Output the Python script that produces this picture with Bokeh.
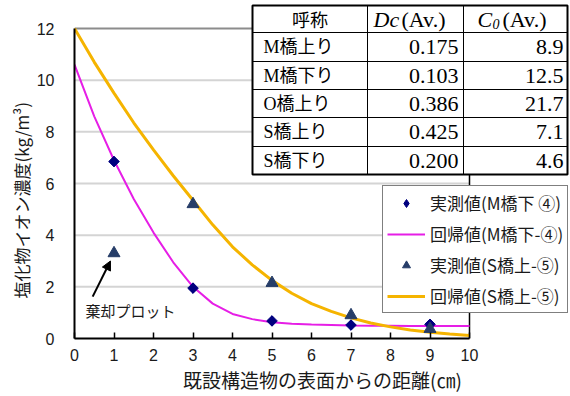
from math import pi

from bokeh.embed import file_html
from bokeh.models import (Arrow, BoxAnnotation, FixedTicker, Label, Legend,
                          LegendItem, NormalHead, Range1d, Title)
from bokeh.plotting import figure
from bokeh.resources import INLINE

# Measured chloride-ion concentration by depth (cm -> kg/m3)
depth_cm = [1, 3, 5, 7, 9]
measured_m4 = [6.85, 1.95, 0.68, 0.52, 0.55]
measured_s5 = [3.3, 5.2, 2.15, 0.9, 0.37]

# Regression curves (diffusion fit) sampled along depth
curve_x = [0, 0.5, 1, 1.5, 2, 2.5, 3, 3.5, 4, 4.5, 5,
           5.5, 6, 6.5, 7, 7.5, 8, 8.5, 9, 9.5, 10]
curve_m4 = [10.6, 8.6, 6.9, 5.4, 4.1, 2.95, 2.0, 1.35, 0.95, 0.75, 0.63,
            0.57, 0.54, 0.52, 0.5, 0.49, 0.49, 0.48, 0.48, 0.48, 0.48]
curve_s5 = [12.0, 10.7, 9.5, 8.35, 7.3, 6.3, 5.35, 4.4, 3.55, 2.85, 2.25,
            1.75, 1.35, 1.05, 0.8, 0.6, 0.45, 0.33, 0.24, 0.17, 0.12]

x_ticks = [0, 1, 2, 3, 4, 5, 6, 7, 8, 9, 10]
y_ticks = [0, 2, 4, 6, 8, 10, 12]

# Summary table: average diffusion coefficient and surface concentration
bridge_names = ["M橋上り", "M橋下り", "O橋上り", "S橋上り", "S橋下り"]
dc_avg = [0.175, 0.103, 0.386, 0.425, 0.200]
c0_avg = [8.9, 12.5, 21.7, 7.1, 4.6]

JP = "Noto Sans CJK JP"
SERIF = "Liberation Serif"
SANS = "Liberation Sans"
MIXED = "'Liberation Serif', 'Noto Sans CJK JP'"

# The frame is widened to the right and up so the table and legend,
# which sit partly outside the 0-10 / 0-12 axes, are not clipped.
W, H = 570, 396
LEFT, BOTTOM = 74, 58
AXIS_W, AXIS_H = 395, 310          # pixels spanned by 0-10 cm and 0-12 kg/m3
x_max, y_max = x_ticks[-1], y_ticks[-1]
x_end = x_max * (W - LEFT) / AXIS_W
y_end = y_max * (H - BOTTOM) / AXIS_H

p = figure(width=W, height=H, x_range=Range1d(0, x_end), y_range=Range1d(0, y_end),
           output_backend="svg", toolbar_location=None,
           min_border_left=LEFT, min_border_right=0,
           min_border_top=0, min_border_bottom=BOTTOM)
p.outline_line_color = None
p.background_fill_color = "white"
p.border_fill_color = "white"
p.xgrid.visible = False
p.ygrid.visible = False

# horizontal grid, top edge (grey) and right edge (black) of the 0-10 x 0-12 box
grid_levels = y_ticks[1:-1]
p.segment(x0=[x_ticks[0]] * len(grid_levels), x1=[x_max] * len(grid_levels),
          y0=grid_levels, y1=grid_levels, line_color="#d4d4d4", line_width=2)
p.segment(x0=[x_ticks[0]], x1=[x_max], y0=[y_max], y1=[y_max],
          line_color="#8c8c8c", line_width=2)
p.segment(x0=[x_max], x1=[x_max], y0=[y_ticks[0]], y1=[y_max],
          line_color="black", line_width=1.5)

# bottom axis: ticks pointing inward
xa = p.xaxis[0]
xa.bounds = (x_ticks[0], x_max)
xa.ticker = FixedTicker(ticks=x_ticks)
xa.axis_line_color = "black"
xa.axis_line_width = 2
xa.major_tick_in = 6
xa.major_tick_out = 0
xa.major_tick_line_color = "black"
xa.major_tick_line_width = 1.5
xa.minor_tick_line_color = None
xa.major_label_text_font = SANS
xa.major_label_text_font_size = "16px"
xa.major_label_text_color = "#1a1a1a"
xa.major_label_standoff = 10
xa.axis_label = "既設構造物の表面からの距離(㎝)"
xa.axis_label_text_font = JP
xa.axis_label_text_font_size = "19px"
xa.axis_label_text_font_style = "normal"
xa.axis_label_text_color = "#1a1a1a"
xa.axis_label_standoff = 2

ya = p.yaxis[0]
ya.bounds = (y_ticks[0], y_max)
ya.ticker = FixedTicker(ticks=y_ticks)
ya.axis_line_color = "black"
ya.axis_line_width = 2
ya.major_tick_in = 0
ya.major_tick_out = 0
ya.minor_tick_line_color = None
ya.major_label_text_font = SANS
ya.major_label_text_font_size = "16px"
ya.major_label_text_color = "#1a1a1a"
ya.major_label_standoff = 20

# vertical title, anchored near the bottom of the 0-12 axis
p.add_layout(Title(text="塩化物イオン濃度(kg/m³)", align="left", offset=40,
                   text_font=JP, text_font_size="17px", text_font_style="normal",
                   text_color="#1a1a1a", standoff=0), "left")

# regression curves
r_fit_m4 = p.line(curve_x, curve_m4, line_color="#E61EE6", line_width=2)
r_fit_s5 = p.line(curve_x, curve_s5, line_color="#F5B400", line_width=3)

# measured points; an upright diamond underneath serves as the legend key
r_m4_key = p.scatter(depth_cm, measured_m4, marker="diamond", size=10,
                     fill_color="#00007F", line_color="#00007F")
r_m4 = p.scatter(depth_cm, measured_m4, marker="square", angle=pi / 4, size=7.5,
                 fill_color="#00007F", line_color="#00007F")
r_s5 = p.scatter(depth_cm, measured_s5, marker="triangle", size=12,
                 fill_color="#263D68", line_color="#263D68")

legend = Legend(items=[
    LegendItem(label="実測値(M橋下 ④)", renderers=[r_m4_key]),
    LegendItem(label="回帰値(M橋下-④)", renderers=[r_fit_m4]),
    LegendItem(label="実測値(S橋上-⑤)", renderers=[r_s5]),
    LegendItem(label="回帰値(S橋上-⑤)", renderers=[r_fit_s5]),
], location=(308, 25))
legend.label_text_font = JP
legend.label_text_font_size = "17px"
legend.label_text_color = "#1a1a1a"
legend.glyph_width = 38
legend.glyph_height = 20
legend.label_height = 20
legend.label_standoff = 5
legend.padding = 4
legend.spacing = 6
legend.margin = 0
legend.border_line_color = "black"
legend.border_line_width = 1
legend.background_fill_color = "white"
legend.background_fill_alpha = 1
p.add_layout(legend, "center")

# rejected point annotation
p.add_layout(Arrow(end=NormalHead(size=9, fill_color="black", line_color="black"),
                   x_start=0.46, y_start=1.62, x_end=0.91, y_end=3.0,
                   line_color="black", line_width=2))
p.add_layout(Label(x=0.28, y=1.08, text="棄却プロット", text_font=JP,
                   text_font_size="15px", text_baseline="middle", text_color="#1a1a1a"))

# summary table in canvas pixels
col_edges = [252, 367, 463, 567]
row_edges = [5, 32, 61, 89, 117, 146, 174]


def cbox(l, r, t, b, **kw):
    return BoxAnnotation(left=l, right=r, top=t, bottom=b,
                         left_units="canvas", right_units="canvas",
                         top_units="canvas", bottom_units="canvas", **kw)


p.add_layout(cbox(col_edges[0], col_edges[-1], row_edges[0], row_edges[-1],
                  fill_color="white", fill_alpha=1, line_color="black",
                  line_alpha=1, line_width=2))
for i in range(len(row_edges) - 1):
    for j in range(len(col_edges) - 1):
        p.add_layout(cbox(col_edges[j], col_edges[j + 1], row_edges[i], row_edges[i + 1],
                          fill_alpha=0, line_color="black", line_alpha=1, line_width=1))


def ctext(x, y, text, font=SERIF, size="22px", align="left", style="normal"):
    p.add_layout(Label(x=x, y=y, x_units="canvas", y_units="canvas", text=text,
                       text_font=font, text_font_size=size, text_align=align,
                       text_baseline="middle", text_font_style=style, text_color="black"))


hy = (row_edges[0] + row_edges[1]) / 2
ctext((col_edges[0] + col_edges[1]) / 2, hy, "呼称", font=JP, size="18px", align="center")
ctext(373, hy, "Dc", style="italic")
ctext(401, hy, "(Av.)")
ctext(477, hy, "C", style="italic")
ctext(492, hy + 5, "0", size="14px", style="italic")
ctext(502, hy, "(Av.)")

for i, name in enumerate(bridge_names):
    cy = (row_edges[i + 1] + row_edges[i + 2]) / 2
    ctext(263, cy, name, font=MIXED, size="18px")
    ctext(col_edges[2] - 5, cy, f"{dc_avg[i]:.3f}", align="right")
    ctext(col_edges[3] - 4, cy, f"{c0_avg[i]:.1f}", align="right")

open("out.html", "w").write(file_html(p, INLINE))
